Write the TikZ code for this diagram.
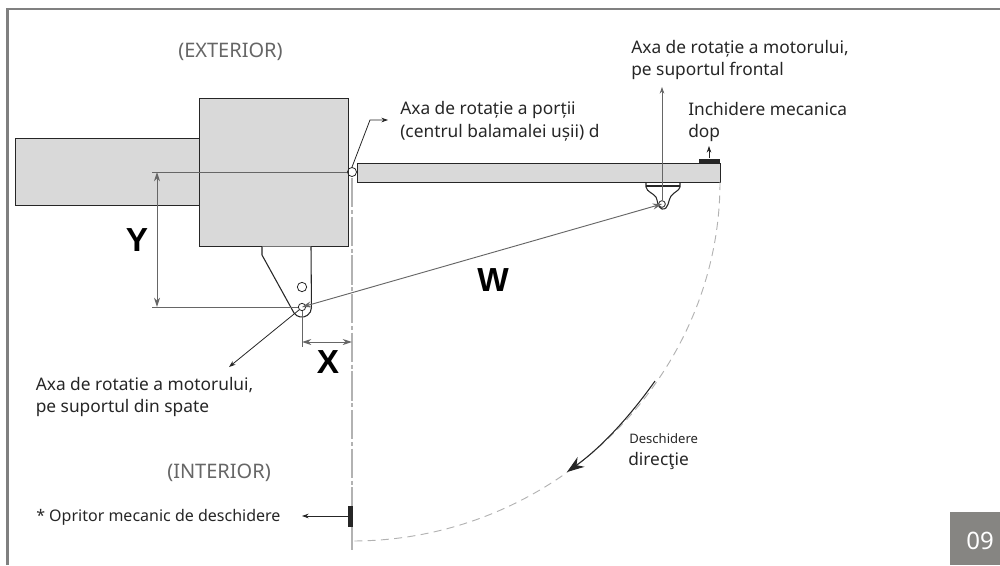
\documentclass[tikz,border=0pt]{standalone}
\usepackage{fontspec}
\setmainfont{Noto Sans}
\newfontfamily\dimfont{Liberation Sans}
\usetikzlibrary{arrows.meta}
\definecolor{boxgray}{HTML}{D9D9D9}
\definecolor{edgegray}{HTML}{808080}
\definecolor{dimgray}{HTML}{666666}
\definecolor{dark}{HTML}{262626}
\definecolor{pagegray}{HTML}{868582}
\tikzset{
  x=0.75pt,y=-0.75pt,
  part/.style={draw=dark,fill=boxgray,line width=0.8pt},
  outline/.style={draw=dark,line width=0.8pt},
  label/.style={anchor=base west,inner sep=0pt,text=dark,font=\fontsize{13pt}{15pt}\selectfont},
  smalllabel/.style={label,font=\fontsize{9.8pt}{11pt}\selectfont},
  stoplabel/.style={label,font=\fontsize{12pt}{14pt}\selectfont},
  roomlabel/.style={label,text=black!60,font=\fontsize{15pt}{17pt}\selectfont},
  dimlabel/.style={anchor=center,inner sep=0pt,text=black,font=\fontsize{25pt}{28pt}\dimfont\bfseries},
  pin/.style={circle,draw=dark,line width=0.6pt,fill=none,inner sep=0pt},
  dimline/.style={draw=dimgray,line width=0.7pt},
  dimarrow/.style={dimline,{Stealth[length=7pt,width=4.5pt]}-{Stealth[length=7pt,width=4.5pt]}},
  leader/.style={draw=dark,line width=0.6pt,-{Stealth[length=5pt,width=3.5pt]}},
  guide/.style={draw=black!30,line width=0.7pt,dash pattern=on 6pt off 4pt},
  stopbar/.style={fill=dark,draw=none}
}
\begin{document}
\begin{tikzpicture}
\useasboundingbox (0,0) rectangle (1000,565);
% frame
\coordinate (f1) at (7.5,565);
\coordinate (f2) at (7.5,9);
\coordinate (f3) at (1000,9);
\draw[edgegray,line width=2.1pt] (f1) -- (f2) -- (f3);
\node[fill=pagegray,minimum width=37.5pt,minimum height=39.75pt,inner sep=0pt,anchor=north west] (page) at (950,512) {};
\node[text=white,inner sep=0pt,font=\fontsize{18pt}{20pt}\selectfont] (pagenum) at (980,541) {09};
% pivots coordinates
\coordinate (hinge) at (352,172);
\coordinate (rear) at (302,307);
\coordinate (front) at (662,204);
% guide line
\coordinate (gtop) at (352,178);
\coordinate (gbot) at (352,550);
\draw[draw=black!30,line width=0.8pt,dash pattern=on 22pt off 2pt on 3pt off 2pt] (gtop) -- (gbot);
% parts
\node[part,minimum width=138pt,minimum height=50.25pt,inner sep=0pt,anchor=north west] (wall) at (15,138) {};
\node[part,minimum width=111.75pt,minimum height=111pt,inner sep=0pt,anchor=north west] (pillar) at (199,98) {};
\node[part,minimum width=272.25pt,minimum height=14.25pt,inner sep=0pt,anchor=north west] (gate) at (357,163) {};
% rear bracket
\draw[outline,fill=white] (262,246.5) -- (262,255) -- (294,313) arc[start angle=215,end angle=360,radius=7.2pt] -- (311,246.5);
\node[pin,minimum size=7pt] (hole) at (302,287) {};
\node[pin,minimum size=5.5pt] (rearpin) at (rear) {};
% front bracket
\draw[outline] (646,182) -- (646,187) .. controls (647,192) and (653,193) .. (656,197) .. controls (658,201) and (657,207) .. (662,209) .. controls (669,210) and (668,200) .. (671,196) .. controls (674,192) and (679,191) .. (680,187) -- (680,182);
\draw[outline] (646,186) -- (680,186);
\node[pin,minimum size=5pt] (frontpin) at (front) {};
\node[pin,minimum size=6.8pt] (hingepin) at (hinge) {};
% dimensions
\coordinate (yt) at (157,172);
\coordinate (yb) at (157,307);
\coordinate (yl) at (152,307);
\coordinate (ytl) at (152,172);
\coordinate (xb) at (302,347);
\coordinate (xa) at (302,342);
\coordinate (xc) at (352,342);
\draw[dimline] (ytl) -- (hingepin.west);
\draw[dimline] (yl) -- (rearpin.west);
\draw[dimline] (rearpin.south) -- (xb);
\draw[dimarrow] (yt) -- (yb);
\draw[dimarrow] (xa) -- (xc);
\draw[dimarrow] (rear) -- (front);
\node[dimlabel] (Y) at (137,240) {Y};
\node[dimlabel] (X) at (328,362) {X};
\node[dimlabel] (W) at (493,280) {W};
% leaders
\coordinate (ftip) at (662,87);
\draw[leader,draw=dimgray] (frontpin.north) -- (ftip);
\coordinate (rtip) at (229,367);
\draw[leader] (rearpin.south west) -- (rtip);
\coordinate (hbend) at (370,120);
\coordinate (htip) at (388,120);
\draw[leader] (hingepin.north) -- (hbend) -- (htip);
% stops
\fill[stopbar] (699,158.5) rectangle (720,163);
\coordinate (cs) at (709,158);
\coordinate (ce) at (709,146);
\draw[leader] (cs) -- (ce);
\fill[stopbar] (348,506) rectangle (353,527);
\coordinate (os) at (348,516);
\coordinate (oe) at (302,516);
\draw[leader] (os) -- (oe);
% swing arc
\coordinate (a0) at (720,182);
\coordinate (a1) at (352,541);
\draw[guide] (a0) .. controls (720,376) and (556,541) .. (a1);
\coordinate (d0) at (655,381);
\coordinate (d1) at (567,472);
\draw[draw=dark,line width=0.8pt,-{Stealth[length=13pt,width=9pt]}] (d0) .. controls (630.7,415.4) and (601.9,447) .. (d1);
% text
\node[roomlabel] (ext) at (178,57) {(EXTERIOR)};
\node[roomlabel] (int) at (167,478) {(INTERIOR)};
\node[label] (t1) at (631,53) {Axa de rotație a motorului,};
\node[label] (t2) at (631,75) {pe suportul frontal};
\node[label] (t3) at (688,115) {Inchidere mecanica};
\node[label] (t4) at (688,137) {dop};
\node[label] (t5) at (400,114) {Axa de rotație a porții};
\node[label] (t6) at (400,137) {(centrul balamalei ușii) d};
\node[label] (t7) at (35.5,390) {Axa de rotatie a motorului,};
\node[label] (t8) at (35.5,412) {pe suportul din spate};
\node[stoplabel] (t9) at (36,521) {* Opritor mecanic de deschidere};
\node[smalllabel] (t10) at (629,443) {Deschidere};
\node[label] (t11) at (628,465) {direcţie};
\end{tikzpicture}
\end{document}
